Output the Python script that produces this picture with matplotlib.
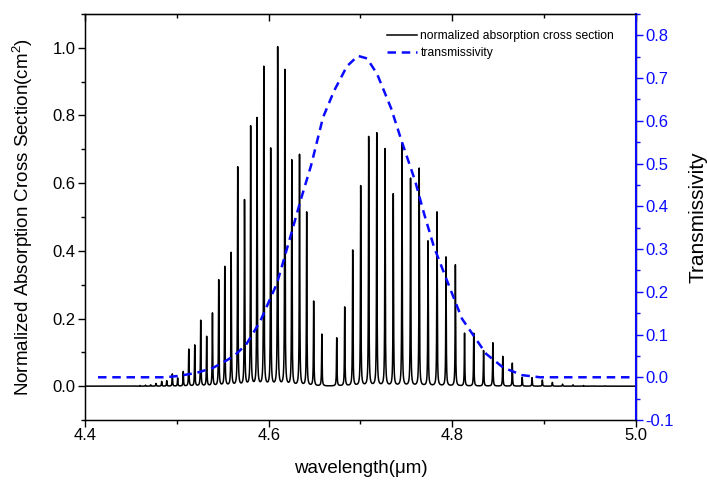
import numpy as np
import matplotlib
matplotlib.use('Agg')
from matplotlib import pyplot as plt
from matplotlib.ticker import MultipleLocator

plt.rcParams['font.family'] = ['Liberation Sans', 'DejaVu Sans']
plt.rcParams['mathtext.fontset'] = 'custom'
plt.rcParams['mathtext.rm'] = 'Liberation Sans'
plt.rcParams['mathtext.it'] = 'Liberation Sans:italic'
plt.rcParams['axes.unicode_minus'] = False

# 吸收线位置 (um) 与归一化截面 (R 支 + P 支)
line_pos = [4.4544, 4.4599, 4.4659, 4.4715, 4.4773, 4.4835, 4.4890, 4.4951, 4.5009, 4.5070,
            4.5130, 4.5195, 4.5260, 4.5325, 4.5388, 4.5456, 4.5522, 4.5592, 4.5663, 4.5737,
            4.5804, 4.5873, 4.5947, 4.6022, 4.6098, 4.6176, 4.6252, 4.6336, 4.6414, 4.6490,
            4.6579,
            4.6741, 4.6828, 4.6915, 4.7002, 4.7089, 4.7177, 4.7267, 4.7357, 4.7452, 4.7545,
            4.7639, 4.7735, 4.7833, 4.7931, 4.8033, 4.8133, 4.8233, 4.8340, 4.8441, 4.8549,
            4.8653, 4.8761, 4.8868, 4.8980, 4.9089, 4.9200, 4.9314, 4.9429, 4.9543, 4.9663]
line_height = [0.001, 0.002, 0.003, 0.004, 0.008, 0.014, 0.016, 0.036, 0.024, 0.043,
               0.109, 0.121, 0.194, 0.146, 0.215, 0.313, 0.352, 0.393, 0.646, 0.548,
               0.766, 0.790, 0.942, 0.700, 1.000, 0.933, 0.666, 0.683, 0.513, 0.250,
               0.153,
               0.142, 0.233, 0.401, 0.591, 0.736, 0.747, 0.700, 0.567, 0.717, 0.613,
               0.643, 0.428, 0.514, 0.381, 0.358, 0.156, 0.156, 0.105, 0.128, 0.088,
               0.068, 0.026, 0.025, 0.018, 0.011, 0.006, 0.004, 0.002, 0.001, 0.001]
line_hwhm = 0.0003

# 透过率曲线
trans_wl = [4.4142, 4.4599, 4.4871, 4.5013, 4.5209, 4.5394, 4.5546, 4.5633, 4.5753, 4.5906,
            4.6091, 4.6221, 4.6352, 4.6461, 4.6592, 4.6712, 4.6853, 4.6973, 4.7071, 4.7180,
            4.7332, 4.7452, 4.7594, 4.7692, 4.7800, 4.7953, 4.8105, 4.8367, 4.8552, 4.8759,
            4.8955, 5.0000]
trans_val = [0.0, 0.0, 0.0, 0.003, 0.010, 0.022, 0.040, 0.052, 0.076, 0.130,
             0.220, 0.317, 0.417, 0.495, 0.608, 0.670, 0.728, 0.752, 0.746, 0.710,
             0.630, 0.550, 0.460, 0.383, 0.305, 0.220, 0.137, 0.055, 0.023, 0.005,
             0.0, 0.0]

# 谱线轮廓
wl = np.union1d(np.arange(4.4, 5.0, 0.00002), line_pos)
spec = np.zeros_like(wl)
for x0, h in zip(line_pos, line_height):
    spec += h * line_hwhm ** 2 / ((wl - x0) ** 2 + line_hwhm ** 2)

blue = '#0a0aff'
fig = plt.figure(figsize=(7.07, 4.84), dpi=100)
ax = fig.add_axes([0.1202, 0.1322, 0.7794, 0.8389])
l1, = ax.plot(wl, spec, color='black', lw=1.1, label='normalized absorption cross section')
ax.set_xlim(4.4, 5.0)
ax.set_ylim(-0.1, 1.1)
ax.xaxis.set_major_locator(MultipleLocator(0.2))
ax.xaxis.set_minor_locator(MultipleLocator(0.1))
ax.yaxis.set_major_locator(MultipleLocator(0.2))
ax.yaxis.set_minor_locator(MultipleLocator(0.1))
ax.tick_params(which='both', direction='out', labelsize=12, width=1.0, pad=2)
ax.tick_params(axis='x', pad=1)
ax.tick_params(which='major', length=5)
ax.tick_params(which='minor', length=3)
ax.set_xlabel('wavelength(μm)', fontsize=13.5, labelpad=12)
ax.set_ylabel('Normalized Absorption Cross Section(cm$^2$)', fontsize=13.5, labelpad=12)
for s in ax.spines.values():
    s.set_linewidth(1.0)

top = ax.secondary_xaxis('top')
top.xaxis.set_major_locator(MultipleLocator(0.2))
top.xaxis.set_minor_locator(MultipleLocator(0.1))
top.tick_params(which='both', direction='in', labeltop=False, width=1.0)
top.tick_params(which='major', length=5)
top.tick_params(which='minor', length=3)

ax2 = ax.twinx()
l2, = ax2.plot(trans_wl, trans_val, color=blue, lw=1.8, ls=(0, (3.4, 2.3)), label='transmissivity')
ax2.set_ylim(-0.1, 0.85)
ax2.yaxis.set_major_locator(MultipleLocator(0.1))
ax2.yaxis.set_minor_locator(MultipleLocator(0.05))
ax2.tick_params(which='both', direction='out', colors=blue, labelsize=12, width=1.0, pad=2)
ax2.tick_params(which='major', length=5)
ax2.tick_params(which='minor', length=3)
ax2.spines['right'].set_color(blue)
ax2.spines['right'].set_linewidth(1.5)
ax2.set_ylabel('Transmissivity', fontsize=15, color='black', labelpad=10)

ax2.legend(handles=[l1, l2], loc='upper right', bbox_to_anchor=(1 - 17 / 551, 1 - 11 / 406),
           fontsize=8.7, frameon=False, handlelength=2.5, handletextpad=0.25,
           labelspacing=0.45, borderaxespad=0)

fig.savefig('out.png', dpi=100)
